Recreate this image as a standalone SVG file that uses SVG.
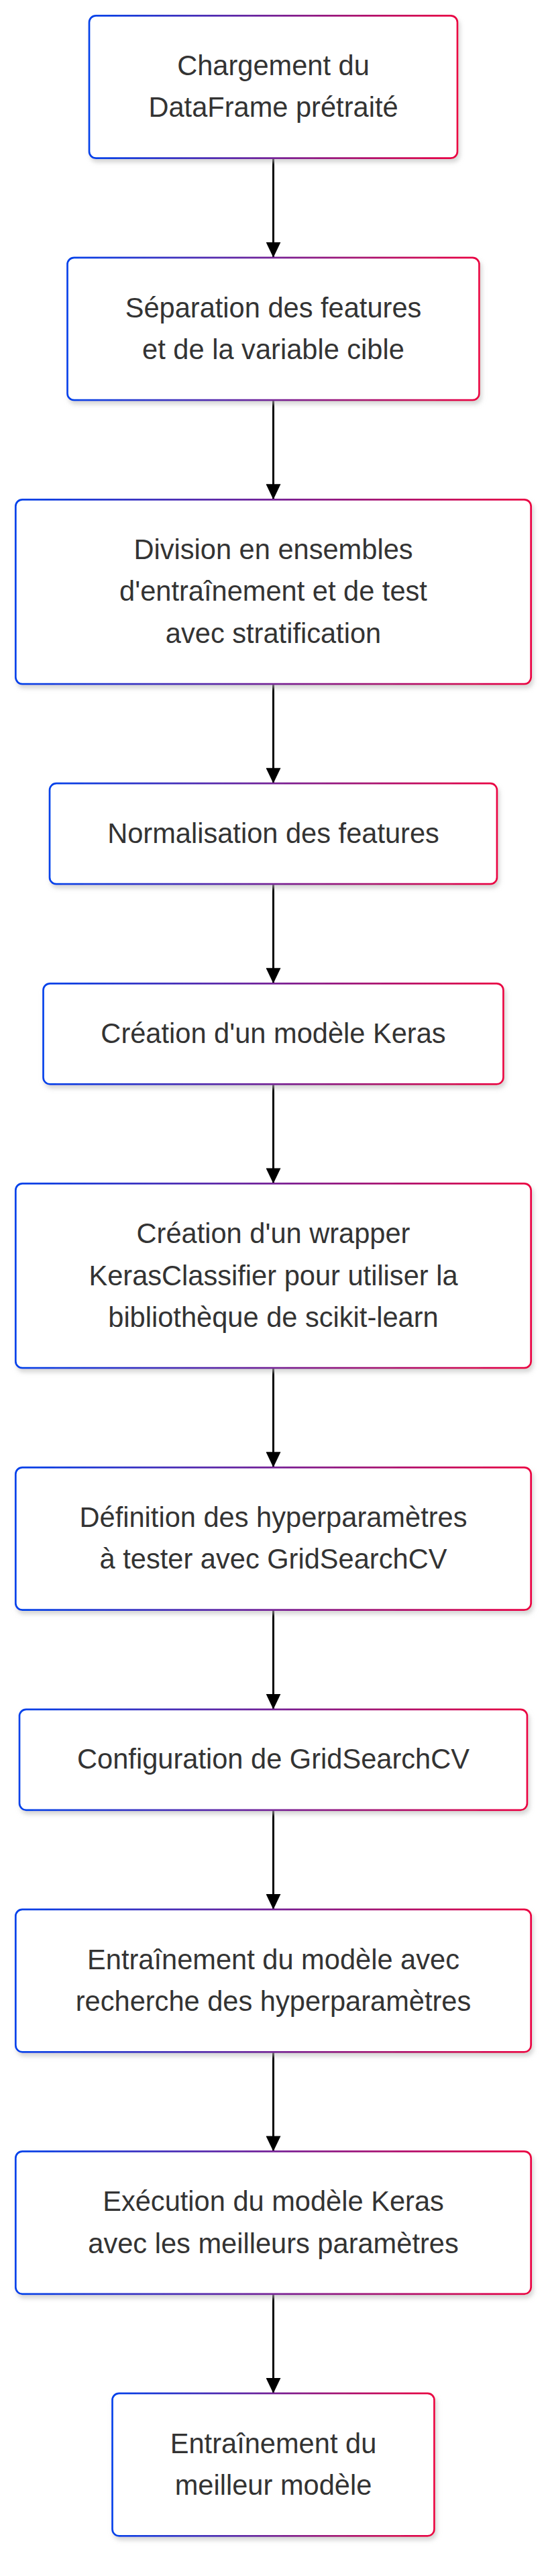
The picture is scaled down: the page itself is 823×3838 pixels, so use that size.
<svg xmlns="http://www.w3.org/2000/svg" width="823" height="3838" viewBox="0 0 823 3838">
<defs>
<linearGradient id="g" x1="0" y1="0" x2="1" y2="0">
<stop offset="0" stop-color="#0042eb"/>
<stop offset="1" stop-color="#eb0042"/>
</linearGradient>
<filter id="sh" x="-10%" y="-10%" width="120%" height="130%">
<feDropShadow dx="2.5" dy="5" stdDeviation="3" flood-color="#b9b9b9" flood-opacity="0.6"/>
</filter>
<marker id="ah" viewBox="0 0 23 22" refX="23" refY="11" markerWidth="23" markerHeight="22" markerUnits="userSpaceOnUse" orient="auto">
<path d="M0,0 L23,11 L0,22 Z" fill="#000"/>
</marker>
</defs>
<style>
.n rect{fill:#fff;stroke:url(#g);stroke-width:2.7;filter:url(#sh)}
.n text{font-family:"Liberation Sans",Arial,sans-serif;font-size:41.6px;fill:#333;text-anchor:middle}
.e path{stroke:#000;stroke-width:3;fill:none;marker-end:url(#ah)}
</style>
<rect width="823" height="3838" fill="#fff"/>
<g id="edges" class="e">
<path d="M407.5,235.7 V383.8"/>
<path d="M407.5,596.2 V744.3"/>
<path d="M407.5,1019.1 V1167.2"/>
<path d="M407.5,1317.2 V1465.3"/>
<path d="M407.5,1615.3 V1763.4"/>
<path d="M407.5,2038.2 V2186.3"/>
<path d="M407.5,2398.7 V2546.8"/>
<path d="M407.5,2696.8 V2844.9"/>
<path d="M407.5,3057.3 V3205.4"/>
<path d="M407.5,3417.8 V3565.9"/>
</g>
<g id="n1" class="n"><rect x="133" y="23.3" width="549" height="212.4" rx="10"/>
<text x="407.5" y="112">Chargement du</text><text x="407.5" y="174.4">DataFrame prétraité</text></g>
<g id="n2" class="n"><rect x="100.5" y="383.8" width="614" height="212.4" rx="10"/>
<text x="407.5" y="472.5">Séparation des features</text><text x="407.5" y="534.9">et de la variable cible</text></g>
<g id="n3" class="n"><rect x="23.3" y="744.3" width="768.4" height="274.8" rx="10"/>
<text x="407.5" y="833">Division en ensembles</text><text x="407.5" y="895.4">d'entraînement et de test</text><text x="407.5" y="957.8">avec stratification</text></g>
<g id="n4" class="n"><rect x="74" y="1167.2" width="667" height="150" rx="10"/>
<text x="407.5" y="1255.7">Normalisation des features</text></g>
<g id="n5" class="n"><rect x="64.5" y="1465.3" width="686" height="150" rx="10"/>
<text x="407.5" y="1553.8">Création d'un modèle Keras</text></g>
<g id="n6" class="n"><rect x="23.3" y="1763.4" width="768.4" height="274.8" rx="10"/>
<text x="407.5" y="1852.1">Création d'un wrapper</text><text x="407.5" y="1914.5">KerasClassifier pour utiliser la</text><text x="407.5" y="1976.9">bibliothèque de scikit-learn</text></g>
<g id="n7" class="n"><rect x="23.3" y="2186.3" width="768.4" height="212.4" rx="10"/>
<text x="407.5" y="2275">Définition des hyperparamètres</text><text x="407.5" y="2337.4">à tester avec GridSearchCV</text></g>
<g id="n8" class="n"><rect x="29" y="2546.8" width="757" height="150" rx="10"/>
<text x="407.5" y="2635.3">Configuration de GridSearchCV</text></g>
<g id="n9" class="n"><rect x="23.3" y="2844.9" width="768.4" height="212.4" rx="10"/>
<text x="407.5" y="2933.6">Entraînement du modèle avec</text><text x="407.5" y="2996">recherche des hyperparamètres</text></g>
<g id="n10" class="n"><rect x="23.3" y="3205.4" width="768.4" height="212.4" rx="10"/>
<text x="407.5" y="3294.1">Exécution du modèle Keras</text><text x="407.5" y="3356.5">avec les meilleurs paramètres</text></g>
<g id="n11" class="n"><rect x="167.5" y="3565.9" width="480" height="212.4" rx="10"/>
<text x="407.5" y="3654.6">Entraînement du</text><text x="407.5" y="3717">meilleur modèle</text></g>
</svg>
